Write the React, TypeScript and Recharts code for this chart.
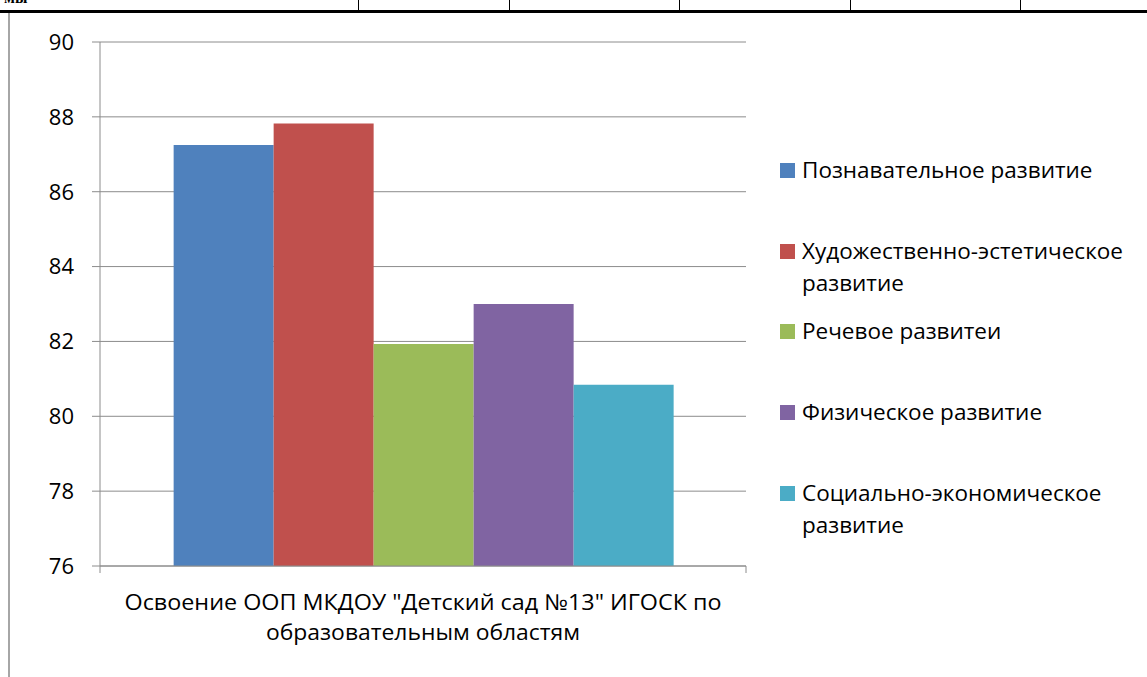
import React from 'react';
import { BarChart, Bar, XAxis, YAxis, CartesianGrid, Legend, usePlotArea } from 'recharts';

const categories = ['Освоение ООП МКДОУ "Детский сад №13" ИГОСК по образовательным областям'];
const categoryLines = ['Освоение ООП МКДОУ "Детский сад №13" ИГОСК по', 'образовательным областям'];
const seriesNames = [
  'Познавательное развитие',
  'Художественно-эстетическое развитие',
  'Речевое развитеи',
  'Физическое развитие',
  'Социально-экономическое развитие',
];
const seriesLegendLines = [
  ['Познавательное развитие'],
  ['Художественно-эстетическое', 'развитие'],
  ['Речевое развитеи'],
  ['Физическое развитие'],
  ['Социально-экономическое', 'развитие'],
];
const seriesValues = [87.25, 87.82, 81.93, 83.0, 80.84];
const seriesColors = ['#4F81BD', '#C0504D', '#9BBB59', '#8064A2', '#4BACC6'];
const yTicks = [76, 78, 80, 82, 84, 86, 88, 90];
const tableColumnEdges = [358, 509, 679, 850, 1020];

const data = categories.map((c) => {
  const row: Record<string, string | number> = { category: c };
  seriesNames.forEach((n, i) => {
    row['s' + i] = seriesValues[i];
  });
  return row;
});

const FONT = '"Open Sans", Calibri, sans-serif';

const CategoryTick = (props: any) => {
  const { x, y } = props;
  return (
    <g>
      {categoryLines.map((line, i) => (
        <text
          key={i}
          x={x}
          y={y + 36 + i * 30}
          textAnchor="middle"
          fontFamily={FONT}
          fontSize={22}
          fill="#000"
          textLength={i === 0 ? 597 : 314}
          lengthAdjust="spacingAndGlyphs"
        >
          {line}
        </text>
      ))}
    </g>
  );
};

const EdgeTicks = () => {
  const area = usePlotArea();
  if (!area) return null;
  const yb = area.y + area.height;
  return (
    <g>
      <line x1={area.x} x2={area.x} y1={yb} y2={yb + 7} stroke="#8c8c8c" strokeWidth={1} />
      <line x1={area.x + area.width} x2={area.x + area.width} y1={yb} y2={yb + 7} stroke="#8c8c8c" strokeWidth={1} />
    </g>
  );
};

const LegendContent = () => (
  <div style={{ fontFamily: FONT, fontSize: 22.5, color: '#000' }}>
    {seriesNames.map((n, i) => (
      <div key={n} style={{ height: 80.7, display: 'flex', alignItems: 'flex-start' }}>
        <div
          style={{
            width: 15,
            height: 15,
            background: seriesColors[i],
            marginTop: 9,
            marginRight: 7,
            flex: '0 0 auto',
          }}
        />
        <div style={{ lineHeight: '32px' }}>
          {seriesLegendLines[i].map((l, j) => (
            <div key={j} style={{ whiteSpace: 'nowrap' }}>{l}</div>
          ))}
        </div>
      </div>
    ))}
  </div>
);

export default function App() {
  return (
    <div style={{ position: 'absolute', left: 0, top: 0, width: 1147, height: 677, overflow: 'hidden', background: '#fff' }}>
      <div style={{ position: 'absolute', left: 4, top: -11, fontFamily: '"Liberation Serif", serif', fontWeight: 'bold', fontSize: 16 }}>мы</div>
      {tableColumnEdges.map((x) => (
        <div key={x} style={{ position: 'absolute', left: x, top: 0, width: 1, height: 11, background: '#000' }} />
      ))}
      <div style={{ position: 'absolute', left: 0, top: 10, width: 1147, height: 3, background: '#000' }} />
      <div style={{ position: 'absolute', left: 8, top: 13, width: 2, height: 664, background: '#a6a6a6' }} />
      <div style={{ position: 'absolute', left: 0, top: 0 }}>
        <BarChart
          width={1147}
          height={677}
          data={data}
          margin={{ top: 42, right: 401, bottom: 21, left: 0 }}
          barCategoryGap="11.4%"
          barGap={0}
        >
          <CartesianGrid vertical={false} stroke="#8c8c8c" strokeWidth={1} />
          <XAxis
            dataKey="category"
            height={90}
            tickLine={false}
            axisLine={{ stroke: '#8c8c8c' }}
            tick={<CategoryTick />}
            interval={0}
          />
          <YAxis
            width={100}
            domain={[76, 90]}
            ticks={yTicks}
            tickSize={8}
            tickMargin={18}
            axisLine={{ stroke: '#8c8c8c' }}
            tickLine={{ stroke: '#8c8c8c' }}
            tick={{ fill: '#000', fontSize: 22, fontFamily: FONT }}
            allowDataOverflow
          />
          {seriesNames.map((n, i) => (
            <Bar key={n} dataKey={'s' + i} name={n} fill={seriesColors[i]} isAnimationActive={false} />
          ))}
          <Legend
            layout="horizontal"
            align="center"
            verticalAlign="middle"
            content={<LegendContent />}
            wrapperStyle={{ left: 780, top: 154, width: 360 }}
          />
          <EdgeTicks />
        </BarChart>
      </div>
    </div>
  );
}
